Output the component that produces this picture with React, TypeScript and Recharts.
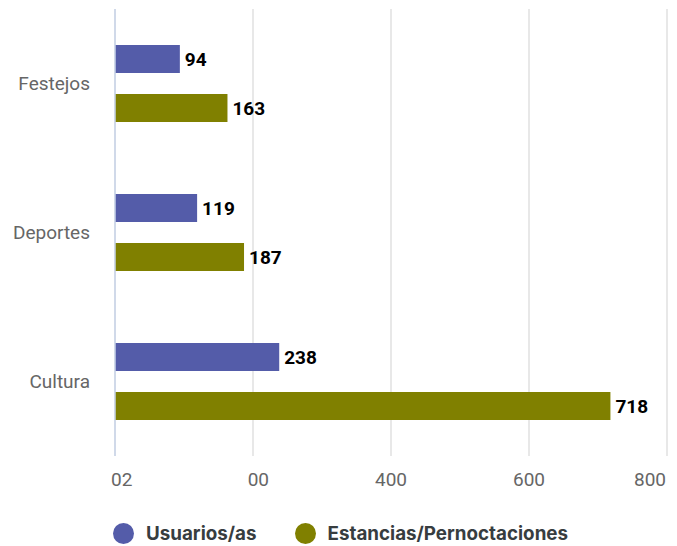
import { BarChart, Bar, XAxis, YAxis, CartesianGrid, LabelList } from 'recharts';

const categories = ['Festejos', 'Deportes', 'Cultura'];
const usuarios = [94, 119, 238];
const estancias = [163, 187, 718];
const xTicks = [0, 200, 400, 600, 800];
const xTickLabels = ['02', '00', '400', '600', '800'];
const seriesNames = ['Usuarios/as', 'Estancias/Pernoctaciones'];
const seriesColors = ['#545ca9', '#808000'];

const chartData = categories.map((name, i) => ({
    name,
    usuarios: usuarios[i],
    estancias: estancias[i],
}));

// the first two labels come out oddly shifted in the original, keep that look
function XTick(props: any) {
    const { x, y, payload, index } = props;
    const i = index ?? xTicks.indexOf(payload.value);
    let anchor: 'start' | 'middle' | 'end' = 'middle';
    let dx = 0;
    if (i === 0) { anchor = 'start'; dx = -4; }
    else if (i === 1) { anchor = 'end'; dx = 16; }
    else if (i === xTicks.length - 1) { anchor = 'end'; dx = -1; }
    return (
        <text x={x + dx} y={y} dy="0.71em" textAnchor={anchor} fill="#666" fontSize={19} fontFamily="Roboto">
            {xTickLabels[i]}
        </text>
    );
}

export default function App() {
    return (
        <div style={{ position: 'absolute', left: 0, top: 0, width: 677, height: 546, background: '#fff' }}>
            <BarChart
                layout="vertical"
                width={677}
                height={490}
                data={chartData}
                margin={{ top: 9, right: 10, bottom: 0, left: 0 }}
                barSize={28}
                barGap={21}
            >
                <CartesianGrid horizontal={false} stroke="#e0e0e0" strokeWidth={1.5} />
                <XAxis
                    type="number"
                    domain={[0, 800]}
                    ticks={xTicks}
                    axisLine={false}
                    tickLine={false}
                    tickMargin={11}
                    height={34}
                    tick={<XTick />}
                    interval={0}
                />
                <YAxis
                    type="category"
                    dataKey="name"
                    width={115}
                    axisLine={{ stroke: '#c9d5ea', strokeWidth: 1.5 }}
                    tickLine={false}
                    tickMargin={19}
                    tick={{ fill: '#666', fontSize: 19, fontFamily: 'Roboto' }}
                />
                <Bar dataKey="usuarios" fill={seriesColors[0]} isAnimationActive={false}>
                    <LabelList dataKey="usuarios" position="right" offset={5} fill="#000" fontSize={19} fontWeight="bold" fontFamily="Roboto" />
                </Bar>
                <Bar dataKey="estancias" fill={seriesColors[1]} isAnimationActive={false}>
                    <LabelList dataKey="estancias" position="right" offset={5} fill="#000" fontSize={19} fontWeight="bold" fontFamily="Roboto" />
                </Bar>
            </BarChart>
            <div style={{ position: 'absolute', left: 113, top: 522, display: 'flex', alignItems: 'center', fontFamily: 'Inter', fontWeight: 700, fontSize: 18.8, color: '#373d3f' }}>
                {seriesNames.map((n, i) => (
                    <div key={n} style={{ display: 'flex', alignItems: 'center', marginRight: 38 }}>
                        <span style={{ width: 21, height: 21, borderRadius: '50%', background: seriesColors[i], display: 'inline-block', marginRight: 12 }} />
                        <span>{n}</span>
                    </div>
                ))}
            </div>
        </div>
    );
}
